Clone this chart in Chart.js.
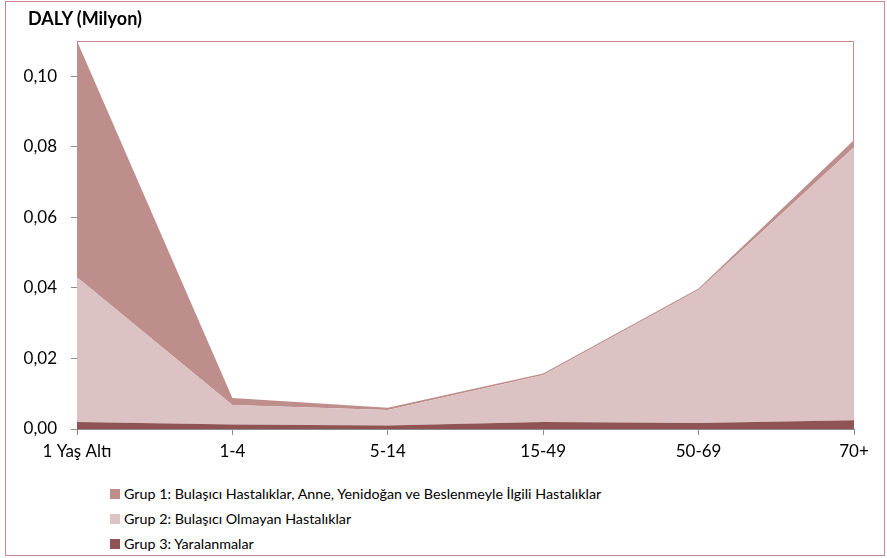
<!doctype html>
<html lang="tr">
<head>
  <meta charset="utf-8">
  <title>DALY (Milyon)</title>
  <style>
    * { margin: 0; padding: 0; font-family: Lato, sans-serif; color: black; }
    body { width: 887px; height: 558px; position: relative; background: white; overflow: hidden; }
    .frame {
      position: absolute; left: 5px; top: 1px; width: 878px; height: 553px;
      border: 1px solid #c9898c;
    }
    .chartBox { position: absolute; left: 0; top: 0; width: 887px; height: 470px; }
    .axisTitle { position: absolute; left: 28px; top: 7px; font-size: 18px; line-height: 22px; font-weight: bold; }
    #legend { position: absolute; left: 110px; top: 481px; list-style: none; }
    #legend li { height: 25px; line-height: 20px; font-size: 14.3px; display: flex; align-items: center; }
    #legend span.box { width: 10px; height: 10px; margin-right: 4px; display: inline-block; }
  </style>
</head>
<body>
<div class="frame"></div>
<div class="chartBox"><canvas id="myChart"></canvas></div>
<div class="axisTitle">DALY (Milyon)</div>
<ul id="legend"></ul>

<script src="https://cdn.jsdelivr.net/npm/chart.js"></script>
<script>
  // categories (age groups)
  const labels = ['1 Yaş Altı', '1-4', '5-14', '15-49', '50-69', '70+'];

  // DALY in millions
  const grup1 = [0.067, 0.002, 0.0006, 0.0004, 0.0004, 0.002];
  const grup2 = [0.041, 0.0055, 0.0044, 0.0133, 0.0377, 0.0774];
  const grup3 = [0.002, 0.0013, 0.001, 0.002, 0.0017, 0.0025];

  const yTicks = [0, 0.02, 0.04, 0.06, 0.08, 0.10];

  // plot area border: top and right in pink (left/bottom are the gray axes)
  const plotBorder = {
    id: 'plotBorder',
    beforeDatasetsDraw(chart) {
      const { ctx, chartArea: a } = chart;
      ctx.save();
      ctx.strokeStyle = '#c9898c';
      ctx.lineWidth = 1;
      ctx.beginPath();
      ctx.moveTo(a.left, a.top + 0.5);
      ctx.lineTo(a.right - 0.5, a.top + 0.5);
      ctx.lineTo(a.right - 0.5, a.bottom);
      ctx.stroke();
      ctx.restore();
    }
  };

  const data = {
    labels: labels,
    // stacked bottom to top: Grup 3, Grup 2, Grup 1
    datasets: [
      {
        label: 'Grup 3: Yaralanmalar',
        data: grup3,
        backgroundColor: '#8f5354',
        borderColor: '#8f5354',
        borderWidth: 0,
        fill: 'origin'
      },
      {
        label: 'Grup 2: Bulaşıcı Olmayan Hastalıklar',
        data: grup2,
        backgroundColor: '#dcc2c3',
        borderColor: '#dcc2c3',
        borderWidth: 0,
        fill: '-1'
      },
      {
        label: 'Grup 1: Bulaşıcı Hastalıklar, Anne, Yenidoğan ve Beslenmeyle İlgili  Hastalıklar',
        data: grup1,
        backgroundColor: '#be8e8c',
        borderColor: '#be8e8c',
        borderWidth: 0,
        fill: '-1'
      }
    ]
  };

  const config = {
    type: 'line',
    data,
    options: {
      responsive: true,
      maintainAspectRatio: false,
      animation: false,
      layout: { padding: { left: 15, right: 33, top: 41, bottom: 0 } },
      elements: { point: { radius: 0 }, line: { tension: 0 } },
      scales: {
        x: {
          offset: false,
          afterFit(axis) { axis.height = 41; },
          grid: {
            display: true,
            drawOnChartArea: false,
            drawTicks: true,
            tickLength: 6,
            color: '#8c8c8c'
          },
          border: { color: '#8c8c8c' },
          ticks: { color: 'black', font: { size: 17, family: 'Lato' }, maxRotation: 0, padding: 6 }
        },
        y: {
          stacked: true,
          min: 0,
          max: 0.11,
          afterFit(axis) { axis.width = 62; },
          afterBuildTicks(axis) {
            axis.ticks = yTicks.map(v => ({ value: v }));
          },
          grid: {
            display: true,
            drawOnChartArea: false,
            drawTicks: true,
            tickLength: 6,
            color: '#8c8c8c'
          },
          border: { color: '#8c8c8c' },
          ticks: {
            color: 'black',
            font: { size: 17, family: 'Lato' },
            padding: 14,
            callback: v => v.toFixed(2).replace('.', ',')
          }
        }
      },
      plugins: {
        legend: { display: false },
        tooltip: { enabled: false },
        title: { display: false }
      }
    },
    plugins: [plotBorder]
  };

  const myChart = new Chart(document.getElementById('myChart'), config);

  // legend listed top to bottom: Grup 1, Grup 2, Grup 3
  const legend = document.getElementById('legend');
  data.datasets.slice().reverse().forEach(ds => {
    const li = document.createElement('li');
    const box = document.createElement('span');
    box.className = 'box';
    box.style.background = ds.backgroundColor;
    li.appendChild(box);
    li.appendChild(document.createTextNode(ds.label));
    legend.appendChild(li);
  });
</script>
</body>
</html>
